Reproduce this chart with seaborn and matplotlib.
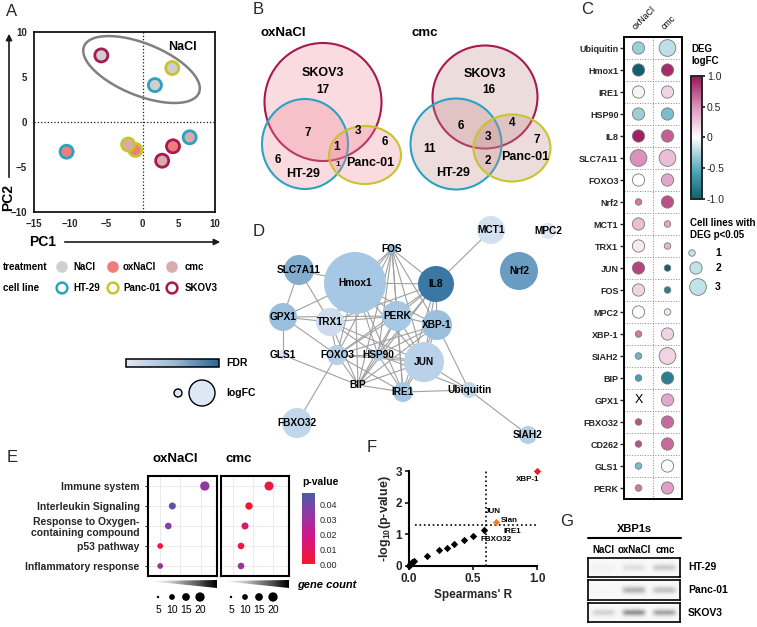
import numpy as np
import pandas as pd
import matplotlib
matplotlib.use("Agg")
import matplotlib.pyplot as plt
import seaborn as sns
from matplotlib.colors import LinearSegmentedColormap, Normalize
from matplotlib.patches import Circle, Ellipse, Polygon
from matplotlib.cm import ScalarMappable

sns.set_theme(style="white")
plt.rcParams["font.family"] = ["Liberation Sans", "DejaVu Sans"]
plt.rcParams["mathtext.default"] = "regular"

# ── A: PCA ────────────────────────────────────────────────────────────────
pc_treat = ["NaCl", "NaCl", "NaCl", "oxNaCl", "oxNaCl", "oxNaCl", "cmc", "cmc", "cmc"]
pc_line = ["SKOV3", "Panc-01", "HT-29", "HT-29", "Panc-01", "SKOV3", "Panc-01", "SKOV3", "HT-29"]
pc1 = [-5.7, 4.1, 1.7, -10.5, -1.0, 4.2, -2.0, 2.7, 6.5]
pc2 = [7.4, 6.0, 4.1, -3.3, -3.1, -2.7, -2.5, -4.3, -1.7]
treatments = ["NaCl", "oxNaCl", "cmc"]
cell_lines = ["HT-29", "Panc-01", "SKOV3"]

# ── B: Venn counts ────────────────────────────────────────────────────────
venn_regions = ["SKOV3", "SKOV3&HT-29", "SKOV3&Panc-01", "Panc-01", "all", "HT-29&Panc-01", "HT-29"]
venn_ox = [17, 7, 3, 6, 1, 1, 6]
venn_cmc = [16, 6, 4, 7, 3, 2, 11]

# ── C: DEG dot plot ───────────────────────────────────────────────────────
genes_c = ["Ubiquitin", "Hmox1", "IRE1", "HSP90", "IL8", "SLC7A11", "FOXO3", "Nrf2", "MCT1",
           "TRX1", "JUN", "FOS", "MPC2", "XBP-1", "SIAH2", "BIP", "GPX1", "FBXO32", "CD262",
           "GLS1", "PERK"]
logfc_ox = [-0.3, -1.1, -0.05, -0.3, 0.95, 0.5, 0.0, 0.6, 0.3, 0.1, 0.8, 0.2, 0.0, 0.6,
            -0.45, -0.6, np.nan, 0.75, 0.75, -0.4, 0.6]
n_ox = [2, 2, 2, 2, 2, 3, 2, 1, 2, 2, 2, 2, 2, 1, 1, 1, 0, 1, 1, 1, 1]
logfc_cmc = [-0.2, 0.9, 0.2, -0.4, 0.7, 0.3, 0.4, 0.75, 0.4, 0.35, -1.1, -0.8, -0.1, 0.2,
             0.2, -0.8, 0.4, 0.65, 0.65, -0.02, 0.45]
n_cmc = [3, 2, 2, 2, 2, 3, 2, 2, 1, 1, 1, 1, 1, 2, 3, 2, 2, 2, 2, 2, 2]

# ── D: network ────────────────────────────────────────────────────────────
node_names = ["Hmox1", "FOS", "IL8", "SLC7A11", "MCT1", "MPC2", "Nrf2", "GPX1", "TRX1", "PERK",
              "XBP-1", "GLS1", "FOXO3", "HSP90", "JUN", "BIP", "IRE1", "Ubiquitin", "FBXO32", "SIAH2"]
node_x = [355, 392, 436, 299, 491, 548, 519, 283, 330, 397, 437, 283, 337, 378, 424, 358, 403, 469, 297, 528]
node_y = [283, 249, 284, 270, 230, 231, 271, 317, 322, 316, 325, 355, 355, 355, 362, 385, 392, 390, 423, 435]
node_size = [31, 5, 18, 15, 14, 8, 19, 14, 14, 15, 15, 5, 10, 6, 20, 3, 10, 8, 15, 9]
node_fdr = [0.5, 0.6, 0.95, 0.65, 0.15, 0.05, 0.75, 0.55, 0.2, 0.5, 0.55, 0.1, 0.4, 0.45, 0.35,
            0.3, 0.5, 0.3, 0.3, 0.4]
edges = [("Hmox1", "FOS"), ("Hmox1", "IL8"), ("Hmox1", "SLC7A11"), ("Hmox1", "GPX1"),
         ("Hmox1", "TRX1"), ("Hmox1", "PERK"), ("Hmox1", "XBP-1"), ("Hmox1", "FOXO3"),
         ("Hmox1", "HSP90"), ("Hmox1", "JUN"), ("Hmox1", "BIP"), ("Hmox1", "IRE1"),
         ("FOS", "IL8"), ("FOS", "PERK"), ("FOS", "XBP-1"), ("FOS", "JUN"), ("FOS", "HSP90"),
         ("FOS", "FOXO3"), ("FOS", "TRX1"), ("FOS", "BIP"), ("FOS", "IRE1"),
         ("IL8", "MCT1"), ("IL8", "PERK"), ("IL8", "XBP-1"), ("IL8", "JUN"), ("IL8", "HSP90"),
         ("IL8", "FOXO3"), ("IL8", "BIP"), ("IL8", "IRE1"), ("IL8", "TRX1"),
         ("SLC7A11", "GPX1"), ("SLC7A11", "TRX1"), ("GPX1", "TRX1"), ("GPX1", "GLS1"),
         ("GPX1", "FOXO3"), ("GPX1", "PERK"), ("TRX1", "FOXO3"), ("TRX1", "HSP90"),
         ("TRX1", "JUN"), ("TRX1", "BIP"), ("TRX1", "PERK"), ("PERK", "XBP-1"),
         ("PERK", "HSP90"), ("PERK", "JUN"), ("PERK", "BIP"), ("PERK", "IRE1"), ("PERK", "FOXO3"),
         ("XBP-1", "HSP90"), ("XBP-1", "JUN"), ("XBP-1", "BIP"), ("XBP-1", "IRE1"),
         ("XBP-1", "Ubiquitin"), ("XBP-1", "FOXO3"), ("GLS1", "BIP"), ("FOXO3", "HSP90"),
         ("FOXO3", "JUN"), ("FOXO3", "BIP"), ("FOXO3", "IRE1"), ("FOXO3", "FBXO32"),
         ("HSP90", "JUN"), ("HSP90", "BIP"), ("HSP90", "IRE1"), ("HSP90", "Ubiquitin"),
         ("JUN", "BIP"), ("JUN", "IRE1"), ("JUN", "Ubiquitin"), ("BIP", "IRE1"),
         ("IRE1", "Ubiquitin"), ("Ubiquitin", "SIAH2")]

# ── E: enrichment ─────────────────────────────────────────────────────────
terms = ["Immune system", "Interleukin Signaling", "Response to Oxygen-\ncontaining compound",
         "p53 pathway", "Inflammatory response"]
count_ox = [21, 13, 12, 10, 10]
pval_ox = [0.033, 0.042, 0.037, 0.004, 0.031]
count_cmc = [19, 14, 13, 12, 12]
pval_cmc = [0.004, 0.001, 0.014, 0.004, 0.032]
legend_counts = [5, 10, 15, 20]

# ── F: correlation ────────────────────────────────────────────────────────
r_other = [0.0, 0.01, 0.02, 0.04, 0.14, 0.235, 0.30, 0.35, 0.43, 0.50, 0.586]
p_other = [0.0, 0.05, 0.12, 0.17, 0.32, 0.50, 0.57, 0.70, 0.82, 0.95, 1.14]
r_slan, p_slan = [0.68], [1.39]
r_xbp, p_xbp = [1.0], [3.0]

# ── G: gel ────────────────────────────────────────────────────────────────
gel_lanes = ["NaCl", "oxNaCl", "cmc"]
gel_lines = ["HT-29", "Panc-01", "SKOV3"]
gel_band = [[0.06, 0.16, 0.26],
            [0.01, 0.36, 0.30],
            [0.22, 0.46, 0.40]]

TREAT_COL = {"NaCl": "#cfcfcf", "oxNaCl": "#f17c7c", "cmc": "#d9abab"}
LINE_COL = {"HT-29": "#2aa2c2", "Panc-01": "#c6c52c", "SKOV3": "#a8194f"}

W, H = 757, 627
fig = plt.figure(figsize=(W / 100, H / 100), dpi=100)


def box(x0, y0, x1, y1):
    return fig.add_axes([x0 / W, 1 - y1 / H, (x1 - x0) / W, (y1 - y0) / H])


ov = box(0, 0, W, H)
ov.set_zorder(10)
ov.patch.set_alpha(0)
ov.axis("off")

BOLD = dict(fontweight="bold", color="black")

for lab, x, y in [("A", 12, 11), ("B", 258, 10), ("C", 587, 10), ("D", 259, 232),
                  ("E", 12, 457), ("F", 372, 447), ("G", 567, 521)]:
    ov.text(x, y, lab, fontsize=12, ha="center", va="center")

# ── A ─────────────────────────────────────────────────────────────────────
axA = box(34, 32, 215, 212)
dfA = pd.DataFrame({"PC1": pc1, "PC2": pc2, "treatment": pc_treat, "line": pc_line})
axA.axhline(0, ls=":", color="k", lw=0.9, zorder=1)
axA.axvline(0, ls=":", color="k", lw=0.9, zorder=1)
sns.scatterplot(data=dfA, x="PC1", y="PC2", hue="treatment", palette=TREAT_COL, s=88,
                linewidth=2.0, legend=False, ax=axA, zorder=3)
axA.collections[-1].set_edgecolors([LINE_COL[c] for c in pc_line])
t = np.linspace(0, 2 * np.pi, 200)
th = np.deg2rad(-22)
sx, sy = 25 / 181, 20 / 180
ex = -0.15 + (62 * np.cos(t) * np.cos(th) - 26 * np.sin(t) * np.sin(th)) * sx
ey = 5.83 + (62 * np.cos(t) * np.sin(th) + 26 * np.sin(t) * np.cos(th)) * sy
axA.plot(ex, ey, color="#808080", lw=1.8)
axA.text(5.5, 8.3, "NaCl", fontsize=9, ha="center", va="center", **BOLD)
axA.set_xlim(-15, 10)
axA.set_ylim(-10, 10)
axA.set_xticks([-15, -10, -5, 0, 5, 10])
axA.set_yticks([-10, -5, 0, 5, 10])
axA.set_xlabel("")
axA.set_ylabel("")
axA.tick_params(length=3, width=1, labelsize=7, pad=2)
for lab in axA.get_xticklabels() + axA.get_yticklabels():
    lab.set_fontweight("bold")
for s in axA.spines.values():
    s.set_color("black")
    s.set_linewidth(1.2)

ov.annotate("", xy=(9, 31), xytext=(9, 180),
            arrowprops=dict(arrowstyle="-|>", color="k", lw=1.2, mutation_scale=9))
ov.text(8, 198, "PC2", rotation=90, fontsize=10, ha="center", va="center", **BOLD)
ov.text(43, 242, "PC1", fontsize=10, ha="center", va="center", **BOLD)
ov.annotate("", xy=(223, 242), xytext=(62, 242),
            arrowprops=dict(arrowstyle="-|>", color="k", lw=1.2, mutation_scale=9))

leg_x = [62, 113, 172]
leg_tx = [73, 123, 185]
ov.text(3, 267, "treatment", fontsize=7, ha="left", va="center", **BOLD)
ov.text(3, 288, "cell line", fontsize=7, ha="left", va="center", **BOLD)
sns.scatterplot(x=leg_x, y=[267] * 3, hue=treatments, palette=TREAT_COL, s=70, linewidth=0,
                legend=False, ax=ov)
sns.scatterplot(x=leg_x, y=[288] * 3, hue=cell_lines, palette=LINE_COL, s=60, linewidth=1.8,
                legend=False, ax=ov)
ov.collections[-1].set_edgecolors([LINE_COL[c] for c in cell_lines])
ov.collections[-1].set_facecolors("none")
for x, a, b in zip(leg_tx, treatments, cell_lines):
    ov.text(x, 267, a, fontsize=7, ha="left", va="center", **BOLD)
    ov.text(x, 288, b, fontsize=7, ha="left", va="center", **BOLD)

# ── B ─────────────────────────────────────────────────────────────────────
venn_shapes = {
    "ox": [("SKOV3", 323, 102, 117, 118), ("HT-29", 305, 144, 86, 90), ("Panc-01", 365, 155, 72, 58)],
    "cmc": [("SKOV3", 485, 97, 105, 103), ("HT-29", 456, 144, 91, 91), ("Panc-01", 512, 148, 77, 67)],
}
venn_fill = {"ox": "#f08896", "cmc": "#c48c8c"}
venn_label_pos = {
    "ox": [(323, 90), (308, 133), (358, 131), (385, 142), (337, 147), (338, 164), (278, 160)],
    "cmc": [(489, 90), (461, 126), (512, 123), (537, 140), (488, 137), (488, 161), (430, 149)],
}
venn_name_pos = {
    "ox": {"SKOV3": (323, 73), "HT-29": (303, 174), "Panc-01": (370, 163)},
    "cmc": {"SKOV3": (485, 74), "HT-29": (453, 173), "Panc-01": (525, 157)},
}
for key, counts, title, tx in [("ox", venn_ox, "oxNaCl", 283), ("cmc", venn_cmc, "cmc", 425)]:
    ov.text(tx, 33, title, fontsize=9.5, ha="center", va="center", **BOLD)
    for name, cx, cy, w, h in venn_shapes[key]:
        ov.add_patch(Ellipse((cx, cy), w, h, facecolor=venn_fill[key], alpha=0.3, edgecolor="none"))
        ov.add_patch(Ellipse((cx, cy), w, h, facecolor="none", edgecolor=LINE_COL[name], lw=1.5))
        nx, ny = venn_name_pos[key][name]
        ov.text(nx, ny, name, fontsize=9, ha="center", va="center", **BOLD)
    for (px, py), c, reg in zip(venn_label_pos[key], counts, venn_regions):
        fs = 6 if (key == "ox" and reg == "HT-29&Panc-01") else 8.5
        ov.text(px, py, str(c), fontsize=fs, ha="center", va="center", **BOLD)

# ── C ─────────────────────────────────────────────────────────────────────
cmapC = LinearSegmentedColormap.from_list(
    "deg", [(0, "#125f6e"), (0.22, "#4aa6b6"), (0.5, "#ffffff"), (0.75, "#dc93bc"), (1, "#9c1356")])
axC = box(624, 37, 682, 499)
dfC = pd.DataFrame({
    "col": [0] * len(genes_c) + [1] * len(genes_c),
    "row": list(range(len(genes_c))) * 2,
    "logfc": logfc_ox + logfc_cmc,
    "n": n_ox + n_cmc,
})
dfC = dfC[dfC["n"] > 0]
size_map = {1: 22, 2: 78, 3: 145}
axC.hlines(np.arange(-0.5, len(genes_c)), -0.5, 1.5, colors="#888888", linestyles=":", lw=0.7)
axC.vlines(0.5, -0.5, len(genes_c) - 0.5, colors="#888888", linestyles=":", lw=0.7)
sns.scatterplot(data=dfC, x="col", y="row", hue="logfc", hue_norm=(-1, 1), palette=cmapC,
                size="n", sizes=size_map, edgecolor="#7a7a7a", linewidth=0.6, legend=False,
                ax=axC, zorder=3)
for i, (g, v) in enumerate(zip(genes_c, logfc_ox)):
    if np.isnan(v):
        axC.text(0, i, "X", fontsize=9, ha="center", va="center", color="black")
axC.set_xlim(-0.5, 1.5)
axC.set_ylim(len(genes_c) - 0.5, -0.5)
axC.set_yticks(range(len(genes_c)))
axC.set_yticklabels(genes_c, fontsize=6.5, fontweight="bold")
axC.set_xticks([])
axC.set_xlabel("")
axC.set_ylabel("")
axC.tick_params(axis="y", left=True, length=3, width=1, pad=1)
for s in axC.spines.values():
    s.set_color("black")
    s.set_linewidth(1.4)
for i, lab in enumerate(["oxNaCl", "cmc"]):
    axC.text(i - 0.05, -0.75, lab, rotation=45, rotation_mode="anchor", ha="left", va="bottom",
             fontsize=6.3, color="black")

caxC = box(691, 76, 702, 199)
cb = fig.colorbar(ScalarMappable(norm=Normalize(-1, 1), cmap=cmapC), cax=caxC)
cb.set_ticks([-1, -0.5, 0, 0.5, 1])
cb.set_ticklabels(["-1.0", "-0.5", "0", "0.5", "1.0"])
cb.outline.set_linewidth(1.4)
caxC.tick_params(direction="inout", length=5, width=1.3, labelsize=7.5, pad=1)
ov.text(691, 55, "DEG\nlogFC", fontsize=7, ha="left", va="center", linespacing=1.3, **BOLD)
ov.text(690, 229, "Cell lines with\nDEG p<0.05", fontsize=7, ha="left", va="center",
        linespacing=1.3, **BOLD)
leg_n = [1, 2, 3]
sns.scatterplot(x=[692, 696, 698], y=[253, 268, 287], size=leg_n, sizes=size_map, color="#bfe3e9",
                edgecolor="#7a7a7a", linewidth=0.6, legend=False, ax=ov)
for n, y in zip(leg_n, [253, 268, 287]):
    ov.text(718, y, str(n), fontsize=7.5, ha="center", va="center", **BOLD)

# ── D ─────────────────────────────────────────────────────────────────────
cmapD = LinearSegmentedColormap.from_list("fdr", ["#e6eaf5", "#a6c8e4", "#2f6f9e"])
pos = {n: (x, y) for n, x, y in zip(node_names, node_x, node_y)}
for a, b in edges:
    ov.plot([pos[a][0], pos[b][0]], [pos[a][1], pos[b][1]], color="#a0a0a0", lw=0.8, zorder=1)
for n, x, y, r, f in zip(node_names, node_x, node_y, node_size, node_fdr):
    ov.add_patch(Circle((x, y), r, facecolor=cmapD(f), edgecolor="none", zorder=2))
    ov.text(x, y, n, fontsize=7.3, ha="center", va="center", zorder=3, **BOLD)

grad = np.linspace(0, 1, 100)[None, :]
im = ov.imshow(grad, cmap=LinearSegmentedColormap.from_list("fdrbar", ["#e4e8f4", "#a2bcd6", "#2a6898"]),
               extent=(126, 219, 367, 359), aspect="auto", zorder=2)
ov.add_patch(Polygon([(126, 359), (219, 359), (219, 367), (126, 367)], closed=True,
                     facecolor="none", edgecolor="black", lw=1.1, zorder=3))
ov.text(226, 363, "FDR", fontsize=7.5, ha="left", va="center", **BOLD)
ov.add_patch(Circle((178, 393), 4, facecolor="#dce8f6", edgecolor="black", lw=1))
ov.add_patch(Circle((202, 393), 13, facecolor="#dce8f6", edgecolor="black", lw=1))
ov.text(226, 393, "logFC", fontsize=7.5, ha="left", va="center", **BOLD)

# ── E ─────────────────────────────────────────────────────────────────────
cmapE = LinearSegmentedColormap.from_list(
    "pv", [(0, "#f4182c"), (0.4, "#d0168c"), (0.72, "#8c3aa4"), (1, "#4a5aaa")])
normE = (0, 0.048)
for (x0, x1), cnt, pv, title, tx, first in [((148, 217), count_ox, pval_ox, "oxNaCl", 175, True),
                                            ((221, 289), count_cmc, pval_cmc, "cmc", 239, False)]:
    ax = box(x0, 476, x1, 576)
    dfE = pd.DataFrame({"row": range(len(terms)), "count": cnt, "p": pv})
    sns.scatterplot(data=dfE, x="count", y="row", hue="p", hue_norm=normE, palette=cmapE,
                    size="count", sizes=(3, 45), size_norm=(5, 20), linewidth=0, legend=False,
                    ax=ax, zorder=3)
    ax.set_xlim(7, 24)
    ax.set_ylim(len(terms) - 0.5, -0.5)
    ax.set_xticks([10, 15, 20])
    ax.set_xticklabels([])
    ax.set_yticks(range(len(terms)))
    ax.grid(True, color="#e8e8e8", lw=0.6)
    ax.set_xlabel("")
    ax.set_ylabel("")
    ax.tick_params(axis="x", length=0)
    if first:
        ax.set_yticklabels(terms, fontsize=7.5, fontweight="bold", linespacing=1.1)
        ax.tick_params(axis="y", left=True, length=2, width=0.8, pad=4)
    else:
        ax.set_yticklabels([])
        ax.tick_params(axis="y", length=0)
    for s in ax.spines.values():
        s.set_color("black")
        s.set_linewidth(1.5)
    ov.text(tx, 459, title, fontsize=9.5, ha="center", va="center", **BOLD)
    wedge = ov.imshow(grad, cmap="Greys", extent=(x0, x1, 588, 580), aspect="auto", zorder=2)
    tri = Polygon([(x0, 581), (x1, 580), (x1, 588)], closed=True, transform=ov.transData,
                  facecolor="none", edgecolor="none")
    ov.add_patch(tri)
    wedge.set_clip_path(tri)
    lx = [x0 + 10 + 14 * i for i in range(4)]
    sns.scatterplot(x=lx, y=[597] * 4, size=legend_counts, sizes=(3, 45), size_norm=(5, 20),
                    color="black", linewidth=0, legend=False, ax=ov)
    for x, c in zip(lx, legend_counts):
        ov.text(x, 610, str(c), fontsize=7.5, ha="center", va="center", color="black")

caxE = box(302, 493, 315, 564)
cbE = fig.colorbar(ScalarMappable(norm=Normalize(*normE), cmap=cmapE), cax=caxE)
cbE.set_ticks([0, 0.01, 0.02, 0.03, 0.04])
cbE.set_ticklabels(["0.00", "0.01", "0.02", "0.03", "0.04"])
cbE.outline.set_visible(False)
caxE.tick_params(direction="in", length=3, width=0.8, color="white", labelsize=6.5, pad=3)
ov.text(302, 482, "p-value", fontsize=7.5, ha="left", va="center", **BOLD)
ov.text(297, 585, "gene count", fontsize=8, style="italic", ha="left", va="center", **BOLD)

# ── F ─────────────────────────────────────────────────────────────────────
axF = box(409, 471, 537, 566)
axF.axvline(0.6, ls=":", color="black", lw=1.2)
axF.hlines(1.3, 0.05, 1.0, linestyles=":", colors="black", lw=1.2)
sns.scatterplot(x=r_other, y=p_other, marker="D", color="black", s=14, linewidth=0, ax=axF,
                clip_on=False, zorder=3)
sns.scatterplot(x=r_slan, y=p_slan, marker="D", color="#f08030", s=14, linewidth=0, ax=axF,
                clip_on=False, zorder=3)
sns.scatterplot(x=r_xbp, y=p_xbp, marker="D", color="#f01c28", s=14, linewidth=0, ax=axF,
                clip_on=False, zorder=3)
for txt, x, y in [("XBP-1", 0.93, 2.72), ("JUN", 0.655, 1.71), ("Slan", 0.78, 1.45),
                  ("IRE1", 0.81, 1.10), ("FBXO32", 0.68, 0.85)]:
    axF.text(x, y, txt, fontsize=5.8, ha="center", va="center", **BOLD)
axF.set_xlim(0, 1.0)
axF.set_ylim(0, 3)
axF.set_xticks([0, 0.5, 1.0])
axF.set_xticklabels(["0.0", "0.5", "1.0"])
axF.set_yticks([0, 1, 2, 3])
sns.despine(ax=axF)
for s in ["left", "bottom"]:
    axF.spines[s].set_color("black")
    axF.spines[s].set_linewidth(1.5)
axF.tick_params(length=3, width=1.3, labelsize=8.5, pad=2, bottom=True, left=True)
for lab in axF.get_xticklabels() + axF.get_yticklabels():
    lab.set_fontweight("bold")
axF.set_xlabel("Spearmans' R", fontsize=8.5, fontweight="bold", labelpad=3)
axF.set_ylabel("-log$_{10}$(p-value)", fontsize=9, fontweight="bold", labelpad=2)

# ── G ─────────────────────────────────────────────────────────────────────
yy = np.linspace(-1, 1, 24)[:, None]
xx = np.linspace(0, 3, 120)[None, :]
lane = np.clip(xx, 0, 2.999).astype(int)
frac = xx - lane - 0.5
for i, (line, (y0, y1)) in enumerate(zip(gel_lines, [(558, 577), (580, 600), (603, 622)])):
    axG = box(588, y0, 680, y1)
    inten = np.array(gel_band[i])[lane]
    img = 0.05 + inten * np.exp(-(yy / 0.42) ** 2) * np.exp(-(frac / 0.4) ** 6)
    axG.imshow(img, cmap="Greys", vmin=0, vmax=1, aspect="auto")
    axG.set_xticks([])
    axG.set_yticks([])
    for s in axG.spines.values():
        s.set_visible(True)
        s.set_color("black")
        s.set_linewidth(1.2)
    ov.text(688, (y0 + y1) / 2, line, fontsize=7.5, ha="left", va="center", **BOLD)
for x, lab in zip([603, 634, 665], gel_lanes):
    ov.text(x, 550, lab, fontsize=7, ha="center", va="center", **BOLD)
ov.text(634, 529, "XBP1s", fontsize=8, ha="center", va="center", **BOLD)
ov.plot([588, 681], [538, 538], color="black", lw=1.5)

ov.set_xlim(0, W)
ov.set_ylim(H, 0)
ov.set_autoscale_on(False)

fig.savefig("out.png", dpi=100)
